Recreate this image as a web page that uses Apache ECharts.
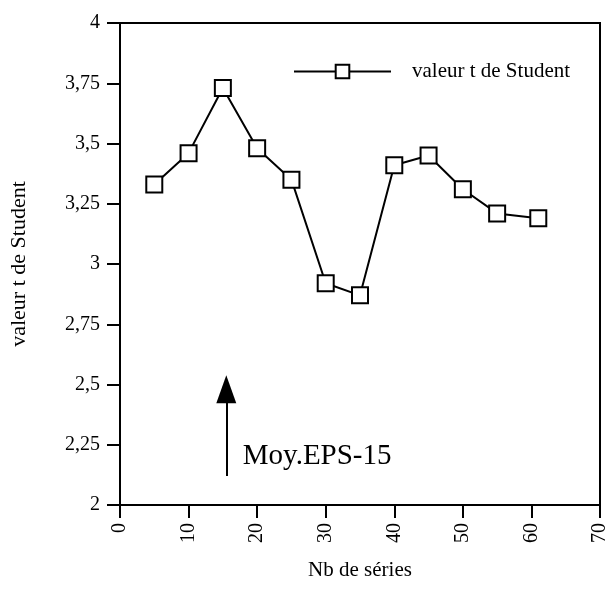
<!DOCTYPE html>
<html>
<head>
<meta charset="utf-8">
<script src="https://cdn.jsdelivr.net/npm/echarts@6/dist/echarts.min.js"></script>
<style>html,body{margin:0;padding:0;background:#fff}#c{width:614px;height:589px}</style>
</head>
<body>
<div id="c"></div>
<script>
const nbSeries = [5, 10, 15, 20, 25, 30, 35, 40, 45, 50, 55, 61];
const tValues = [3.33, 3.46, 3.73, 3.48, 3.35, 2.92, 2.87, 3.41, 3.45, 3.31, 3.21, 3.19];
const seriesName = 'valeur t de Student';
const xTitle = 'Nb de séries';
const yTitle = 'valeur t de Student';
const arrowFrom = [15.5, 2.12];
const arrowTo = [15.5, 2.48];
const noteText = 'Moy.EPS-15';
const notePos = [17.9, 2.2];

const F = '"Liberation Serif", "Times New Roman", serif';
const chart = echarts.init(document.getElementById('c'), null, {renderer: 'canvas'});
chart.setOption({
  animation: false,
  backgroundColor: '#fff',
  grid: {left: 120, right: 14, top: 23, bottom: 84, show: true, borderColor: '#000', borderWidth: 2, backgroundColor: 'transparent'},
  legend: {
    left: 288, top: 56,
    itemWidth: 97, itemHeight: 17,
    data: [seriesName],
    textStyle: {fontFamily: F, fontSize: 21, color: '#000', padding: [0, 0, 0, 16]}
  },
  xAxis: {
    type: 'value', min: 0, max: 70, interval: 10,
    name: xTitle, nameLocation: 'middle', nameGap: 55,
    nameTextStyle: {fontFamily: F, fontSize: 21, color: '#000'},
    axisLine: {lineStyle: {color: '#000', width: 2}},
    axisTick: {show: true, length: 13, lineStyle: {color: '#000', width: 2}},
    axisLabel: {rotate: 90, fontFamily: F, fontSize: 20, color: '#000', margin: 18},
    splitLine: {show: false}
  },
  yAxis: {
    type: 'value', min: 2, max: 4, interval: 0.25,
    name: yTitle, nameLocation: 'middle', nameGap: 90,
    nameTextStyle: {fontFamily: F, fontSize: 22, color: '#000'},
    axisLine: {lineStyle: {color: '#000', width: 2}},
    axisTick: {show: true, length: 13, lineStyle: {color: '#000', width: 2}},
    axisLabel: {fontFamily: F, fontSize: 20, color: '#000', margin: 20,
      formatter: v => String(+v.toFixed(2)).replace('.', ',')},
    splitLine: {show: false}
  },
  series: [{
    name: seriesName, type: 'line',
    data: nbSeries.map((x, i) => [x, tValues[i]]),
    symbol: 'rect', symbolSize: 16,
    lineStyle: {color: '#000', width: 2},
    itemStyle: {color: '#fff', borderColor: '#000', borderWidth: 2},
    z: 3,
    markLine: {
      silent: true, symbol: ['none', 'triangle'], symbolSize: [20, 28],
      lineStyle: {color: '#000', width: 2, type: 'solid'},
      label: {show: false},
      data: [[{coord: arrowFrom}, {coord: arrowTo}]]
    },
    markPoint: {
      silent: true, symbol: 'circle', symbolSize: 0,
      label: {show: true, position: 'right', distance: 0, formatter: noteText,
        fontFamily: F, fontSize: 29, color: '#000'},
      data: [{coord: notePos}]
    }
  }]
});
</script>
</body>
</html>
